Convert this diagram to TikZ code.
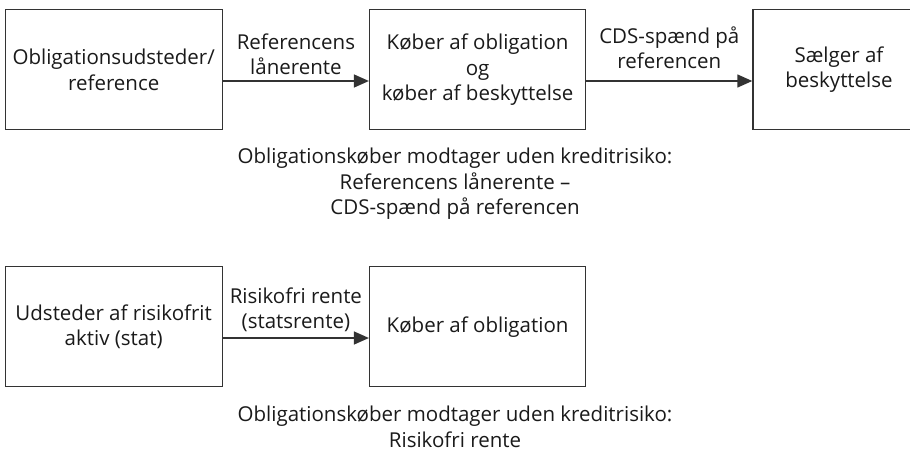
\documentclass[tikz,border=0pt]{standalone}
\usepackage{fontspec}
\setmainfont{Open Sans}
\usepackage{tikz}
\usetikzlibrary{arrows.meta,positioning}
\definecolor{Line}{HTML}{333333}
\definecolor{Ink}{HTML}{1A1A1A}

\begin{document}
\begin{tikzpicture}[
  x=1pt, y=-1pt,
  font=\fontsize{20.5}{25.5}\selectfont, text=Ink,
  box/.style={
    draw=Line, line width=1.4pt, fill=white,
    align=center, minimum height=120pt, inner sep=1pt
  },
  arrow/.style={-{Triangle[length=15pt,width=13pt]}, line width=1.4pt, draw=Line},
  flowlabel/.style={above=2pt, align=center},
  summary/.style={align=center}
]
\useasboundingbox (0,0) rectangle (910,455);

% top row
\node[box, minimum width=217pt, anchor=north west] (issuer) at (4.5,9)
{Obligationsudsteder/\\reference};
\node[box, minimum width=216pt, right=146pt of issuer] (buyer)
{Køber af obligation\\og\\køber af beskyttelse};
\node[box, minimum width=172pt, right=166pt of buyer] (seller)
{Sælger af\\beskyttelse};

\draw[arrow] (issuer.east |- 0,81) -- node[flowlabel] {Referencens\\lånerente} (buyer.west |- 0,81);
\draw[arrow] (buyer.east |- 0,81) -- node[flowlabel, above=8pt] {CDS-spænd på\\referencen} (seller.west |- 0,81);

\node[summary] (topnote) at (455,184)
{Obligationskøber modtager uden kreditrisiko:\\
Referencens lånerente --\\
CDS-spænd på referencen};

% bottom row
\node[box, minimum width=217pt, anchor=north west] (state) at (4.5,266)
{Udsteder af risikofrit\\aktiv (stat)};
\node[box, minimum width=216pt, right=146pt of state] (bondbuyer)
{Køber af obligation};

\draw[arrow] (state.east |- 0,338) -- node[flowlabel] {Risikofri rente\\(statsrente)} (bondbuyer.west |- 0,338);

\node[summary] (bottomnote) at (455,427)
{Obligationskøber modtager uden kreditrisiko:\\
Risikofri rente};
\end{tikzpicture}
\end{document}
